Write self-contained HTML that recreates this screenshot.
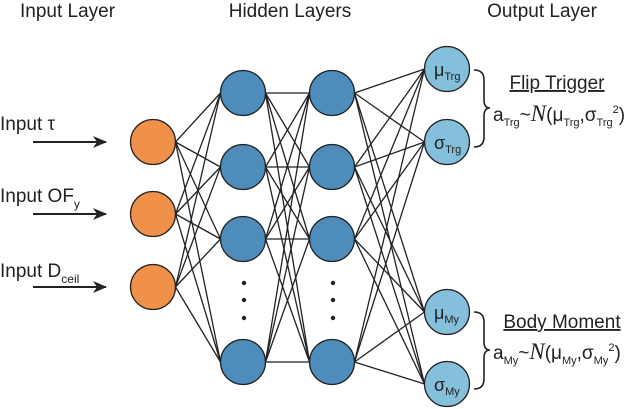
<!DOCTYPE html>
<html><head><meta charset="utf-8"><style>
body{margin:0;background:#fff}
svg{display:block}
text{font-family:"Liberation Sans",sans-serif;fill:#222}
</style></head><body>
<svg width="640" height="409" viewBox="0 0 640 409" xmlns="http://www.w3.org/2000/svg">
<defs><marker id="ah" markerWidth="14" markerHeight="12" refX="13" refY="6" orient="auto" markerUnits="userSpaceOnUse"><path d="M0,0 L14,6 L0,12 L4,6 Z" fill="#222"/></marker></defs>
<text x="20" y="17" font-size="19">Input Layer</text>
<text x="290" y="17" font-size="19" text-anchor="middle">Hidden Layers</text>
<text x="542" y="17" font-size="19" text-anchor="middle">Output Layer</text>
<g stroke="#222" stroke-width="1.3" id="edges"></g>
<g stroke="#222" stroke-width="2" fill="none">
<line x1="33" y1="142" x2="106" y2="142" marker-end="url(#ah)"/>
<line x1="33" y1="214" x2="106" y2="214" marker-end="url(#ah)"/>
<line x1="33" y1="287" x2="106" y2="287" marker-end="url(#ah)"/>
</g>
<text x="0" y="130" font-size="19">Input τ</text>
<text x="0" y="202" font-size="19">Input OF<tspan font-size="12" dy="6">y</tspan></text>
<text x="0" y="277" font-size="19">Input D<tspan font-size="12" dy="6">ceil</tspan></text>
<g id="nodes" stroke="#222" stroke-width="1.3"></g>
<g fill="#222">
<circle cx="244" cy="283" r="2.2"/><circle cx="244" cy="300" r="2.2"/><circle cx="244" cy="318" r="2.2"/>
<circle cx="333" cy="283" r="2.2"/><circle cx="333" cy="300" r="2.2"/><circle cx="333" cy="318" r="2.2"/>
</g>
<g font-size="18">
<text x="434" y="76">μ<tspan font-size="11" dy="4">Trg</tspan></text>
<text x="434" y="149">σ<tspan font-size="11" dy="4">Trg</tspan></text>
<text x="434" y="319">μ<tspan font-size="11" dy="4">My</tspan></text>
<text x="434" y="391">σ<tspan font-size="11" dy="4">My</tspan></text>
</g>
<path d="M474,70 Q484,70 484,80 L484,100 Q484,108 490,108 Q484,108 484,116 L484,137 Q484,147 474,147" fill="none" stroke="#222" stroke-width="1.6"/>
<path d="M474,312 Q484,312 484,322 L484,342 Q484,350 490,350 Q484,350 484,358 L484,379 Q484,389 474,389" fill="none" stroke="#222" stroke-width="1.6"/>
<text x="557" y="89" font-size="19" text-anchor="middle" text-decoration="underline">Flip Trigger</text>
<text x="493" y="121" font-size="19">a<tspan font-size="11" dy="5">Trg</tspan><tspan dy="-5">~</tspan><tspan font-style="italic" font-family="Liberation Serif" font-size="23">N</tspan>(μ<tspan font-size="11" dy="5">Trg</tspan><tspan dy="-5">,σ</tspan><tspan font-size="11" dy="5">Trg</tspan><tspan font-size="11" dy="-13">2</tspan><tspan dy="8">)</tspan></text>
<text x="562" y="328" font-size="19" text-anchor="middle" text-decoration="underline">Body Moment</text>
<text x="493" y="359" font-size="19">a<tspan font-size="11" dy="5">My</tspan><tspan dy="-5">~</tspan><tspan font-style="italic" font-family="Liberation Serif" font-size="23">N</tspan>(μ<tspan font-size="11" dy="5">My</tspan><tspan dy="-5">,σ</tspan><tspan font-size="11" dy="5">My</tspan><tspan font-size="11" dy="-13">2</tspan><tspan dy="8">)</tspan></text>
<script>
var ns="http://www.w3.org/2000/svg",r=22.5;
var L=[[153,[142,214,287],"#F0914A"],[243,[93,167,239,362],"#4E8DBB"],[332,[93,167,239,362],"#4E8DBB"],[447,[69,142,312,384],"#84BFDB"]];
var E=document.getElementById("edges"),N=document.getElementById("nodes");
for(var i=0;i<3;i++){var a=L[i],b=L[i+1];a[1].forEach(function(y1){b[1].forEach(function(y2){var l=document.createElementNS(ns,"line");l.setAttribute("x1",a[0]+r);l.setAttribute("y1",y1);l.setAttribute("x2",b[0]-r);l.setAttribute("y2",y2);E.appendChild(l);});});}
L.forEach(function(a){a[1].forEach(function(y){var c=document.createElementNS(ns,"circle");c.setAttribute("cx",a[0]);c.setAttribute("cy",y);c.setAttribute("r",r);c.setAttribute("fill",a[2]);N.appendChild(c);});});
</script>
</svg>
</body></html>
